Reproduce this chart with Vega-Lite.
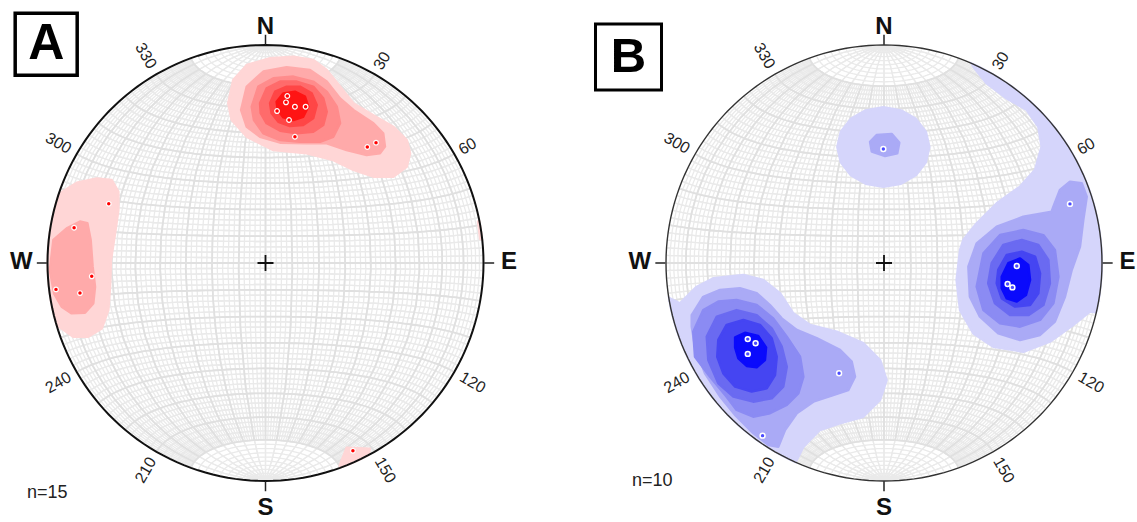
{
"$schema": "https://vega.github.io/schema/vega-lite/v6.json",
"padding": 0,
"spacing": 0,
"background": "white",
"config": {"view": {"stroke": null}, "font": "Liberation Sans"},
"datasets": {
"contA": [
{"type":"Feature","properties":{"key":"A1"},"geometry":{"type":"Polygon","coordinates":[[[-0.171,0.733],[-0.148,0.839],[-0.086,0.908],[0.021,0.939],[0.128,0.946],[0.219,0.931],[0.281,0.885],[0.342,0.809],[0.403,0.733],[0.479,0.687],[0.586,0.625],[0.648,0.564],[0.663,0.503],[0.648,0.442],[0.586,0.396],[0.495,0.396],[0.403,0.427],[0.311,0.472],[0.189,0.503],[0.036,0.518],[-0.086,0.579],[-0.155,0.656],[-0.171,0.733]]]}},
{"type":"Feature","properties":{"key":"A1"},"geometry":{"type":"Polygon","coordinates":[[[-1.034,0.243],[-0.943,0.320],[-0.866,0.368],[-0.774,0.388],[-0.706,0.381],[-0.675,0.327],[-0.675,0.243],[-0.690,0.136],[-0.709,0.014],[-0.713,-0.109],[-0.721,-0.216],[-0.751,-0.300],[-0.813,-0.338],[-0.882,-0.338],[-0.935,-0.300],[-1.034,-0.246],[-1.034,0.243]]]}},
{"type":"Feature","properties":{"key":"A1"},"geometry":{"type":"Polygon","coordinates":[[[0.372,-0.848],[0.478,-0.852],[0.47,-0.9],[0.36,-0.96],[0.34,-0.93],[0.372,-0.848]]]}},
{"type":"Feature","properties":{"key":"A1"},"geometry":{"type":"Polygon","coordinates":[[[0.975,0.19],[1.06,0.2],[1.06,0.1],[0.985,0.11],[0.975,0.19]]]}},
{"type":"Feature","properties":{"key":"A2"},"geometry":{"type":"Polygon","coordinates":[[[-0.112,0.702],[-0.086,0.809],[-0.010,0.878],[0.097,0.898],[0.204,0.885],[0.281,0.832],[0.342,0.755],[0.403,0.702],[0.495,0.641],[0.540,0.595],[0.548,0.534],[0.525,0.503],[0.464,0.495],[0.372,0.518],[0.281,0.549],[0.189,0.549],[0.067,0.552],[-0.025,0.579],[-0.086,0.625],[-0.112,0.702]]]}},
{"type":"Feature","properties":{"key":"A2"},"geometry":{"type":"Polygon","coordinates":[[[-0.973,0.106],[-0.912,0.159],[-0.851,0.190],[-0.817,0.182],[-0.802,0.106],[-0.793,-0.017],[-0.782,-0.109],[-0.790,-0.185],[-0.828,-0.228],[-0.889,-0.231],[-0.935,-0.200],[-0.970,-0.139],[-0.989,-0.032],[-0.973,0.106]]]}},
{"type":"Feature","properties":{"key":"A3"},"geometry":{"type":"Polygon","coordinates":[[[-0.063,0.717],[-0.033,0.809],[0.036,0.847],[0.128,0.855],[0.219,0.832],[0.281,0.786],[0.327,0.717],[0.342,0.641],[0.311,0.579],[0.250,0.556],[0.158,0.556],[0.067,0.564],[-0.010,0.595],[-0.053,0.656],[-0.063,0.717]]]}},
{"type":"Feature","properties":{"key":"A4"},"geometry":{"type":"Polygon","coordinates":[[[-0.025,0.733],[0.005,0.801],[0.067,0.832],[0.143,0.832],[0.219,0.809],[0.265,0.755],[0.281,0.694],[0.265,0.633],[0.219,0.602],[0.143,0.595],[0.067,0.607],[0.005,0.641],[-0.022,0.687],[-0.025,0.733]]]}},
{"type":"Feature","properties":{"key":"A5"},"geometry":{"type":"Polygon","coordinates":[[[0.021,0.733],[0.044,0.786],[0.097,0.809],[0.158,0.809],[0.212,0.778],[0.235,0.725],[0.219,0.664],[0.173,0.633],[0.112,0.628],[0.059,0.648],[0.028,0.687],[0.021,0.733]]]}},
{"type":"Feature","properties":{"key":"A6"},"geometry":{"type":"Polygon","coordinates":[[[0.051,0.740],[0.082,0.778],[0.135,0.786],[0.181,0.763],[0.196,0.717],[0.173,0.671],[0.128,0.656],[0.082,0.668],[0.056,0.702],[0.051,0.740]]]}}
],
"contB": [
{"type":"Feature","properties":{"key":"B1"},"geometry":{"type":"Polygon","coordinates":[[[0.208,0.532],[0.192,0.602],[0.146,0.661],[0.078,0.700],[-0.003,0.714],[-0.084,0.700],[-0.152,0.661],[-0.198,0.602],[-0.214,0.532],[-0.198,0.462],[-0.152,0.403],[-0.084,0.364],[-0.003,0.350],[0.078,0.364],[0.146,0.403],[0.192,0.462],[0.208,0.532]]]}},
{"type":"Feature","properties":{"key":"B1"},"geometry":{"type":"Polygon","coordinates":[[[0.364,0.992],[0.410,0.900],[0.471,0.824],[0.563,0.755],[0.655,0.702],[0.708,0.625],[0.723,0.534],[0.693,0.427],[0.624,0.350],[0.517,0.274],[0.425,0.182],[0.364,0.106],[0.349,0.060],[0.333,-0.078],[0.349,-0.216],[0.410,-0.323],[0.501,-0.384],[0.639,-0.407],[0.761,-0.361],[0.868,-0.284],[0.945,-0.223],[1.06,-0.24],[1.12,0.1],[1.0,0.55],[0.78,0.83],[0.5,1.0],[0.364,0.992]]]}},
{"type":"Feature","properties":{"key":"B1"},"geometry":{"type":"Polygon","coordinates":[[[-1.028,-0.139],[-0.936,-0.185],[-0.859,-0.109],[-0.783,-0.070],[-0.645,-0.055],[-0.554,-0.078],[-0.477,-0.139],[-0.416,-0.231],[-0.339,-0.284],[-0.217,-0.315],[-0.095,-0.368],[-0.018,-0.445],[0.012,-0.537],[-0.018,-0.628],[-0.095,-0.705],[-0.202,-0.735],[-0.294,-0.766],[-0.370,-0.843],[-0.408,-0.919],[-0.416,-1.026],[-0.85,-0.75],[-1.1,-0.3],[-1.028,-0.139]]]}},
{"type":"Feature","properties":{"key":"B2"},"geometry":{"type":"Polygon","coordinates":[[[-0.064,0.556],[-0.034,0.587],[0.035,0.592],[0.070,0.552],[0.061,0.503],[0.005,0.491],[-0.056,0.511],[-0.064,0.556]]]}},
{"type":"Feature","properties":{"key":"B2"},"geometry":{"type":"Polygon","coordinates":[[[0.777,0.258],[0.807,0.335],[0.853,0.373],[0.907,0.366],[0.930,0.304],[0.914,0.197],[0.899,0.075],[0.861,-0.032],[0.830,-0.155],[0.784,-0.269],[0.716,-0.330],[0.624,-0.353],[0.524,-0.323],[0.440,-0.246],[0.394,-0.155],[0.387,-0.017],[0.425,0.090],[0.517,0.167],[0.639,0.212],[0.769,0.235],[0.777,0.258]]]}},
{"type":"Feature","properties":{"key":"B2"},"geometry":{"type":"Polygon","coordinates":[[[-0.882,-0.239],[-0.829,-0.155],[-0.752,-0.124],[-0.661,-0.116],[-0.584,-0.139],[-0.523,-0.193],[-0.469,-0.254],[-0.400,-0.307],[-0.309,-0.345],[-0.202,-0.399],[-0.148,-0.453],[-0.133,-0.522],[-0.164,-0.583],[-0.233,-0.606],[-0.324,-0.636],[-0.400,-0.689],[-0.454,-0.766],[-0.485,-0.843],[-0.53,-0.835],[-0.60,-0.78],[-0.68,-0.70],[-0.75,-0.615],[-0.821,-0.506],[-0.867,-0.384],[-0.882,-0.292],[-0.882,-0.239]]]}},
{"type":"Feature","properties":{"key":"B3"},"geometry":{"type":"Polygon","coordinates":[[[0.456,0.044],[0.532,0.128],[0.639,0.151],[0.731,0.128],[0.784,0.060],[0.800,-0.063],[0.777,-0.185],[0.716,-0.261],[0.624,-0.292],[0.532,-0.277],[0.456,-0.216],[0.425,-0.109],[0.456,0.044]]]}},
{"type":"Feature","properties":{"key":"B3"},"geometry":{"type":"Polygon","coordinates":[[[-0.875,-0.315],[-0.829,-0.216],[-0.760,-0.177],[-0.676,-0.170],[-0.584,-0.193],[-0.508,-0.254],[-0.446,-0.338],[-0.385,-0.430],[-0.370,-0.522],[-0.393,-0.598],[-0.446,-0.651],[-0.523,-0.689],[-0.600,-0.705],[-0.676,-0.674],[-0.722,-0.613],[-0.798,-0.522],[-0.867,-0.430],[-0.875,-0.315]]]}},
{"type":"Feature","properties":{"key":"B4"},"geometry":{"type":"Polygon","coordinates":[[[0.494,-0.001],[0.547,0.083],[0.632,0.106],[0.708,0.083],[0.754,0.014],[0.761,-0.093],[0.731,-0.193],[0.662,-0.239],[0.578,-0.239],[0.509,-0.185],[0.478,-0.093],[0.494,-0.001]]]}},
{"type":"Feature","properties":{"key":"B4"},"geometry":{"type":"Polygon","coordinates":[[[-0.813,-0.338],[-0.767,-0.246],[-0.676,-0.216],[-0.584,-0.239],[-0.515,-0.300],[-0.469,-0.384],[-0.446,-0.476],[-0.462,-0.567],[-0.515,-0.621],[-0.600,-0.636],[-0.691,-0.613],[-0.760,-0.552],[-0.806,-0.445],[-0.813,-0.338]]]}},
{"type":"Feature","properties":{"key":"B5"},"geometry":{"type":"Polygon","coordinates":[[[0.524,-0.032],[0.563,0.037],[0.632,0.052],[0.693,0.029],[0.716,-0.047],[0.708,-0.139],[0.670,-0.193],[0.601,-0.200],[0.540,-0.162],[0.517,-0.093],[0.524,-0.032]]]}},
{"type":"Feature","properties":{"key":"B5"},"geometry":{"type":"Polygon","coordinates":[[[-0.760,-0.353],[-0.722,-0.284],[-0.645,-0.261],[-0.569,-0.284],[-0.515,-0.345],[-0.492,-0.430],[-0.500,-0.514],[-0.538,-0.575],[-0.607,-0.590],[-0.683,-0.567],[-0.737,-0.506],[-0.765,-0.430],[-0.760,-0.353]]]}},
{"type":"Feature","properties":{"key":"B6"},"geometry":{"type":"Polygon","coordinates":[[[0.540,-0.063],[0.570,-0.001],[0.624,0.021],[0.662,-0.009],[0.670,-0.078],[0.651,-0.147],[0.609,-0.177],[0.563,-0.162],[0.540,-0.116],[0.540,-0.063]]]}},
{"type":"Feature","properties":{"key":"B6"},"geometry":{"type":"Polygon","coordinates":[[[-0.683,-0.341],[-0.638,-0.320],[-0.577,-0.335],[-0.541,-0.387],[-0.546,-0.445],[-0.584,-0.478],[-0.630,-0.472],[-0.668,-0.437],[-0.683,-0.387],[-0.683,-0.341]]]}}
],
"ptsA": [
{"x":0.100,"y":0.766},{"x":0.094,"y":0.737},{"x":0.135,"y":0.717},{"x":0.184,"y":0.717},{"x":0.053,"y":0.697},{"x":0.108,"y":0.656},{"x":0.135,"y":0.579},{"x":0.467,"y":0.532},{"x":0.507,"y":0.552},{"x":-0.719,"y":0.272},{"x":-0.878,"y":0.162},{"x":-0.797,"y":-0.061},{"x":-0.961,"y":-0.121},{"x":-0.851,"y":-0.138},{"x":0.401,"y":-0.861}
],
"ptsB": [
{"x":0.853,"y":0.271},{"x":0.609,"y":-0.014},{"x":0.567,"y":-0.096},{"x":0.589,"y":-0.112},{"x":-0.625,"y":-0.349},{"x":-0.589,"y":-0.368},{"x":-0.625,"y":-0.417},{"x":-0.206,"y":-0.506},{"x":-0.557,"y":-0.792},{"x":-0.003,"y":0.523}
],
"ticks": [
{"d":"NS","x":0,"y":1.024},{"d":"NS","x":0,"y":-1.024},{"d":"EW","x":1.026,"y":0},{"d":"EW","x":-1.026,"y":0}
],
"center": [{"x":0,"y":0}],
"compass": [
{"t":"N","x":0,"y":1.082},{"t":"E","x":1.117,"y":0.003},{"t":"S","x":0,"y":-1.126},{"t":"W","x":-1.12,"y":0.003}
],
"deg": [
{"t":"30","az":30,"x":0.535,"y":0.927},{"t":"60","az":60,"x":0.927,"y":0.535},{"t":"120","az":120,"x":0.950,"y":-0.549},{"t":"150","az":150,"x":0.549,"y":-0.950},{"t":"210","az":210,"x":-0.549,"y":-0.950},{"t":"240","az":240,"x":-0.950,"y":-0.549},{"t":"300","az":300,"x":-0.950,"y":0.549},{"t":"330","az":330,"x":-0.549,"y":0.950}
],
"annA": [{"label":"A","x":-1.006,"y":1.003}],
"annB": [{"label":"B","x":-1.172,"y":0.945}],
"nA": [{"t":"n=15","x":-1.094,"y":-1.053}],
"nB": [{"t":"n=10","x":-1.156,"y":-1.0}]
},
"hconcat": [
{
"width": 568, "height": 522,
"layer": [
{"data":{"graticule":{"stepMinor":[2,2],"extentMinor":[[-90,-70],[90,70.01]],"stepMajor":[10,360],"extentMajor":[[-90,-90],[90,90]]}},"mark":{"type":"geoshape","filled":false,"stroke":"#eaeaea","strokeWidth":1.3},"projection":{"type":"azimuthalEqualArea","scale":154.15,"translate":[265.5,263],"clipAngle":90}},
{"data":{"graticule":{"stepMinor":[10,2],"extentMinor":[[-90,-90],[90,90]],"stepMajor":[90,360],"extentMajor":[[-90,-90],[90,90]]}},"mark":{"type":"geoshape","filled":false,"stroke":"#eaeaea","strokeWidth":1.3},"projection":{"type":"azimuthalEqualArea","scale":154.15,"translate":[265.5,263],"clipAngle":90}},
{"data":{"graticule":{"stepMinor":[10,10],"extentMinor":[[-90,-70],[90,70.01]],"stepMajor":[90,360],"extentMajor":[[-90,-70],[90,70]]}},"mark":{"type":"geoshape","filled":false,"stroke":"#e0e0e0","strokeWidth":1.8},"projection":{"type":"azimuthalEqualArea","scale":154.15,"translate":[265.5,263],"clipAngle":90}},
{"data":{"name":"contA"},"mark":{"type":"geoshape","strokeWidth":2.5,"strokeJoin":"round"},"encoding":{"fill":{"field":"properties.key","type":"nominal","legend":null,"scale":{"domain":["A1","A2","A3","A4","A5","A6","B1","B2","B3","B4","B5","B6"],"range":["#ffd6d6","#ffaaaa","#ff8c8c","#ff6b6b","#ff4646","#ff1414","#d5d5fb","#aaaaf6","#8b8bf3","#6a6af1","#4545f2","#0a0afc"]}},"stroke":{"field":"properties.key","type":"nominal","legend":null,"scale":{"domain":["A1","A2","A3","A4","A5","A6","B1","B2","B3","B4","B5","B6"],"range":["#ffd6d6","#ffaaaa","#ff8c8c","#ff6b6b","#ff4646","#ff1414","#d5d5fb","#aaaaf6","#8b8bf3","#6a6af1","#4545f2","#0a0afc"]}}},"projection":{"type":"identity","reflectY":true,"scale":218,"translate":[265.5,263]}},
{"data":{"sphere":true},"mark":{"type":"geoshape","filled":false,"stroke":"white","strokeWidth":33},"projection":{"type":"azimuthalEqualArea","scale":166.5,"translate":[265.5,263],"clipAngle":90}},
{"data":{"sphere":true},"mark":{"type":"geoshape","filled":false,"stroke":"#111111","strokeWidth":2},"projection":{"type":"azimuthalEqualArea","scale":154.15,"translate":[265.5,263],"clipAngle":90}},
{"data":{"name":"ptsA"},"mark":{"type":"circle","fill":"#ff0000","stroke":"white","strokeWidth":1.2,"size":22,"opacity":1},"encoding":{"longitude":{"field":"x","type":"quantitative"},"latitude":{"field":"y","type":"quantitative"}},"projection":{"type":"identity","reflectY":true,"scale":218,"translate":[265.5,263]}},
{"data":{"name":"ticks"},"mark":{"type":"point","filled":false,"stroke":"#222222","strokeWidth":1.5,"size":100,"opacity":1},"encoding":{"longitude":{"field":"x","type":"quantitative"},"latitude":{"field":"y","type":"quantitative"},"shape":{"field":"d","type":"nominal","legend":null,"scale":{"domain":["NS","EW"],"range":["M0,-1V1","M-1,0H1"]}}},"projection":{"type":"identity","reflectY":true,"scale":218,"translate":[265.5,263]}},
{"data":{"name":"center"},"mark":{"type":"point","filled":false,"shape":"M-1,0H1M0,-1V1","stroke":"#111111","strokeWidth":1.8,"size":256,"opacity":1},"encoding":{"longitude":{"field":"x","type":"quantitative"},"latitude":{"field":"y","type":"quantitative"}},"projection":{"type":"identity","reflectY":true,"scale":218,"translate":[265.5,263]}},
{"data":{"name":"compass"},"mark":{"type":"text","font":"Liberation Sans","fontWeight":"bold","fontSize":24,"color":"#111111","align":"center","baseline":"middle"},"encoding":{"longitude":{"field":"x","type":"quantitative"},"latitude":{"field":"y","type":"quantitative"},"text":{"field":"t"}},"projection":{"type":"identity","reflectY":true,"scale":218,"translate":[265.5,263]}},
{"data":{"name":"deg"},"mark":{"type":"text","font":"Liberation Sans","fontSize":16,"color":"#222222","align":"center","baseline":"middle"},"encoding":{"longitude":{"field":"x","type":"quantitative"},"latitude":{"field":"y","type":"quantitative"},"text":{"field":"t"},"angle":{"field":"az","type":"quantitative","scale":{"type":"threshold","domain":[45,90,135,180,225,270,315],"range":[-60,-30,30,60,-60,-30,30,60]}}},"projection":{"type":"identity","reflectY":true,"scale":218,"translate":[265.5,263]}},
{"data":{"name":"annA"},"mark":{"type":"point","shape":"square","filled":false,"stroke":"#000000","strokeWidth":3.5,"size":3844,"opacity":1},"encoding":{"longitude":{"field":"x","type":"quantitative"},"latitude":{"field":"y","type":"quantitative"}},"projection":{"type":"identity","reflectY":true,"scale":218,"translate":[265.5,263]}},
{"data":{"name":"annA"},"mark":{"type":"text","font":"Liberation Sans","fontWeight":"bold","fontSize":50,"color":"#000000","align":"center","baseline":"middle"},"encoding":{"longitude":{"field":"x","type":"quantitative"},"latitude":{"field":"y","type":"quantitative"},"text":{"field":"label"}},"projection":{"type":"identity","reflectY":true,"scale":218,"translate":[265.5,263]}},
{"data":{"name":"nA"},"mark":{"type":"text","font":"Liberation Sans","fontSize":18,"color":"#222222","align":"left","baseline":"middle"},"encoding":{"longitude":{"field":"x","type":"quantitative"},"latitude":{"field":"y","type":"quantitative"},"text":{"field":"t"}},"projection":{"type":"identity","reflectY":true,"scale":218,"translate":[265.5,263]}}
]
},
{
"width": 569, "height": 522,
"layer": [
{"data":{"graticule":{"stepMinor":[2,2],"extentMinor":[[-90,-70],[90,70.01]],"stepMajor":[10,360],"extentMajor":[[-90,-90],[90,90]]}},"mark":{"type":"geoshape","filled":false,"stroke":"#eaeaea","strokeWidth":1.3},"projection":{"type":"azimuthalEqualArea","scale":154.15,"translate":[316,263],"clipAngle":90}},
{"data":{"graticule":{"stepMinor":[10,2],"extentMinor":[[-90,-90],[90,90]],"stepMajor":[90,360],"extentMajor":[[-90,-90],[90,90]]}},"mark":{"type":"geoshape","filled":false,"stroke":"#eaeaea","strokeWidth":1.3},"projection":{"type":"azimuthalEqualArea","scale":154.15,"translate":[316,263],"clipAngle":90}},
{"data":{"graticule":{"stepMinor":[10,10],"extentMinor":[[-90,-70],[90,70.01]],"stepMajor":[90,360],"extentMajor":[[-90,-70],[90,70]]}},"mark":{"type":"geoshape","filled":false,"stroke":"#e0e0e0","strokeWidth":1.8},"projection":{"type":"azimuthalEqualArea","scale":154.15,"translate":[316,263],"clipAngle":90}},
{"data":{"name":"contB"},"mark":{"type":"geoshape","strokeWidth":2.5,"strokeJoin":"round"},"encoding":{"fill":{"field":"properties.key","type":"nominal","legend":null,"scale":{"domain":["A1","A2","A3","A4","A5","A6","B1","B2","B3","B4","B5","B6"],"range":["#ffd6d6","#ffaaaa","#ff8c8c","#ff6b6b","#ff4646","#ff1414","#d5d5fb","#aaaaf6","#8b8bf3","#6a6af1","#4545f2","#0a0afc"]}},"stroke":{"field":"properties.key","type":"nominal","legend":null,"scale":{"domain":["A1","A2","A3","A4","A5","A6","B1","B2","B3","B4","B5","B6"],"range":["#ffd6d6","#ffaaaa","#ff8c8c","#ff6b6b","#ff4646","#ff1414","#d5d5fb","#aaaaf6","#8b8bf3","#6a6af1","#4545f2","#0a0afc"]}}},"projection":{"type":"identity","reflectY":true,"scale":218,"translate":[316,263]}},
{"data":{"sphere":true},"mark":{"type":"geoshape","filled":false,"stroke":"white","strokeWidth":33},"projection":{"type":"azimuthalEqualArea","scale":166.5,"translate":[316,263],"clipAngle":90}},
{"data":{"sphere":true},"mark":{"type":"geoshape","filled":false,"stroke":"#333333","strokeWidth":1.4},"projection":{"type":"azimuthalEqualArea","scale":154.15,"translate":[316,263],"clipAngle":90}},
{"data":{"name":"ptsB"},"mark":{"type":"circle","fill":"#4a4aff","stroke":"white","strokeWidth":1.5,"size":24,"opacity":1},"encoding":{"longitude":{"field":"x","type":"quantitative"},"latitude":{"field":"y","type":"quantitative"}},"projection":{"type":"identity","reflectY":true,"scale":218,"translate":[316,263]}},
{"data":{"name":"ticks"},"mark":{"type":"point","filled":false,"stroke":"#222222","strokeWidth":1.5,"size":100,"opacity":1},"encoding":{"longitude":{"field":"x","type":"quantitative"},"latitude":{"field":"y","type":"quantitative"},"shape":{"field":"d","type":"nominal","legend":null,"scale":{"domain":["NS","EW"],"range":["M0,-1V1","M-1,0H1"]}}},"projection":{"type":"identity","reflectY":true,"scale":218,"translate":[316,263]}},
{"data":{"name":"center"},"mark":{"type":"point","filled":false,"shape":"M-1,0H1M0,-1V1","stroke":"#111111","strokeWidth":1.8,"size":256,"opacity":1},"encoding":{"longitude":{"field":"x","type":"quantitative"},"latitude":{"field":"y","type":"quantitative"}},"projection":{"type":"identity","reflectY":true,"scale":218,"translate":[316,263]}},
{"data":{"name":"compass"},"mark":{"type":"text","font":"Liberation Sans","fontWeight":"bold","fontSize":24,"color":"#111111","align":"center","baseline":"middle"},"encoding":{"longitude":{"field":"x","type":"quantitative"},"latitude":{"field":"y","type":"quantitative"},"text":{"field":"t"}},"projection":{"type":"identity","reflectY":true,"scale":218,"translate":[316,263]}},
{"data":{"name":"deg"},"mark":{"type":"text","font":"Liberation Sans","fontSize":16,"color":"#222222","align":"center","baseline":"middle"},"encoding":{"longitude":{"field":"x","type":"quantitative"},"latitude":{"field":"y","type":"quantitative"},"text":{"field":"t"},"angle":{"field":"az","type":"quantitative","scale":{"type":"threshold","domain":[45,90,135,180,225,270,315],"range":[-60,-30,30,60,-60,-30,30,60]}}},"projection":{"type":"identity","reflectY":true,"scale":218,"translate":[316,263]}},
{"data":{"name":"annB"},"mark":{"type":"point","shape":"square","filled":false,"stroke":"#000000","strokeWidth":3,"size":4356,"opacity":1},"encoding":{"longitude":{"field":"x","type":"quantitative"},"latitude":{"field":"y","type":"quantitative"}},"projection":{"type":"identity","reflectY":true,"scale":218,"translate":[316,263]}},
{"data":{"name":"annB"},"mark":{"type":"text","font":"Liberation Sans","fontWeight":"bold","fontSize":49,"color":"#000000","align":"center","baseline":"middle"},"encoding":{"longitude":{"field":"x","type":"quantitative"},"latitude":{"field":"y","type":"quantitative"},"text":{"field":"label"}},"projection":{"type":"identity","reflectY":true,"scale":218,"translate":[316,263]}},
{"data":{"name":"nB"},"mark":{"type":"text","font":"Liberation Sans","fontSize":18,"color":"#222222","align":"left","baseline":"middle"},"encoding":{"longitude":{"field":"x","type":"quantitative"},"latitude":{"field":"y","type":"quantitative"},"text":{"field":"t"}},"projection":{"type":"identity","reflectY":true,"scale":218,"translate":[316,263]}}
]
}
]
}
